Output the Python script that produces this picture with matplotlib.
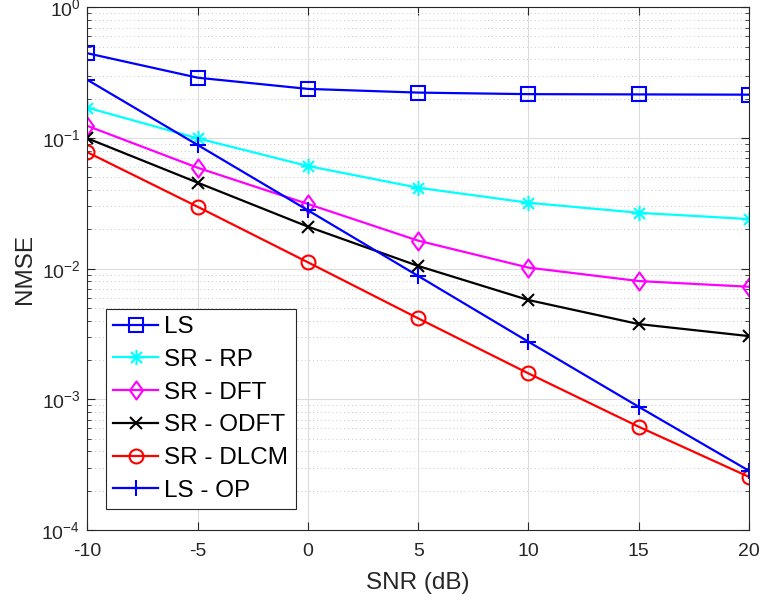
import matplotlib
matplotlib.use("Agg")
import matplotlib.pyplot as plt
from matplotlib.ticker import LogLocator, NullFormatter
from matplotlib.path import Path

plt.rcParams['font.family'] = ['Liberation Sans', 'DejaVu Sans']
plt.rcParams['axes.unicode_minus'] = False
plt.rcParams['mathtext.fontset'] = 'custom'
plt.rcParams['mathtext.rm'] = 'Liberation Sans'
plt.rcParams['mathtext.default'] = 'regular'

snr = [-10, -5, 0, 5, 10, 15, 20]
ls = [0.446, 0.29, 0.238, 0.223, 0.217, 0.216, 0.215]
sr_rp = [0.171, 0.0996, 0.0611, 0.0417, 0.032, 0.0268, 0.024]
sr_dft = [0.124, 0.0593, 0.0313, 0.0164, 0.0102, 0.00805, 0.00728]
sr_odft = [0.0996, 0.0456, 0.021, 0.0105, 0.00576, 0.00377, 0.00305]
sr_dlcm = [0.0779, 0.0298, 0.0112, 0.00417, 0.00158, 0.000617, 0.000255]
ls_op = [0.279, 0.0886, 0.028, 0.0088, 0.00276, 0.000877, 0.000284]

labels = ['LS', 'SR - RP', 'SR - DFT', 'SR - ODFT', 'SR - DLCM', 'LS - OP']
series = [ls, sr_rp, sr_dft, sr_odft, sr_dlcm, ls_op]
colors = ['#0000ff', '#00ffff', '#ff00ff', '#000000', '#ff0000', '#0000ff']

# MATLAB-style asterisk (8 arms) and diamond (slightly tall)
asterisk = Path([(-1, 0), (1, 0), (0, -1), (0, 1),
                 (-0.72, -0.72), (0.72, 0.72), (-0.72, 0.72), (0.72, -0.72)],
                [Path.MOVETO, Path.LINETO] * 4)
diamond = Path([(0, 1), (0.72, 0), (0, -1), (-0.72, 0), (0, 1)],
               [Path.MOVETO, Path.LINETO, Path.LINETO, Path.LINETO, Path.CLOSEPOLY])
markers = ['s', asterisk, diamond, 'x', 'o', '+']
msizes = [10, 11, 13, 8, 10, 12]

fig = plt.figure(figsize=(7.6, 6.02), dpi=100)
ax = fig.add_axes([0.115, 0.1196, 0.8705, 0.868])

for y, lab, c, m, ms in zip(series, labels, colors, markers, msizes):
    ax.plot(snr, y, color=c, marker=m, markersize=ms, markerfacecolor='none',
            markeredgecolor=c, markeredgewidth=1.5, linewidth=1.6, label=lab)

ax.set_yscale('log')
ax.set_xlim(-10, 20)
ax.set_ylim(1e-4, 1e0)
ax.set_xticks(snr)
ax.yaxis.set_major_locator(LogLocator(base=10, numticks=10))
ax.yaxis.set_minor_locator(LogLocator(base=10, subs=range(2, 10), numticks=50))
ax.yaxis.set_minor_formatter(NullFormatter())

ax.grid(True, which='major', color='#dcdcdc', linewidth=0.8, linestyle='-')
ax.grid(True, which='minor', axis='y', color='#c8c8c8', linewidth=0.7, linestyle=(0, (1, 3)))
ax.set_axisbelow(True)

ax.tick_params(which='both', direction='in', top=True, right=True, colors='#262626',
               labelsize=14)
ax.tick_params(axis='x', which='major', pad=9)
ax.tick_params(axis='y', which='major', pad=5)
ax.tick_params(which='major', length=6)
ax.tick_params(which='minor', length=3)
for s in ax.spines.values():
    s.set_color('#262626')
    s.set_linewidth(0.8)

ax.set_xlabel('SNR (dB)', fontsize=17.5, color='#262626', labelpad=9)
ax.set_ylabel('NMSE', fontsize=17.5, color='#262626', labelpad=4)

leg = ax.legend(loc='lower left', bbox_to_anchor=(0.028, 0.04), fontsize=17.5,
                frameon=True, fancybox=False, edgecolor='#262626', framealpha=1,
                handlelength=1.85, handletextpad=0.25, labelspacing=0.44,
                borderpad=0.3, borderaxespad=0)
leg.get_frame().set_linewidth(0.8)

fig.savefig('out.png', dpi=100)
